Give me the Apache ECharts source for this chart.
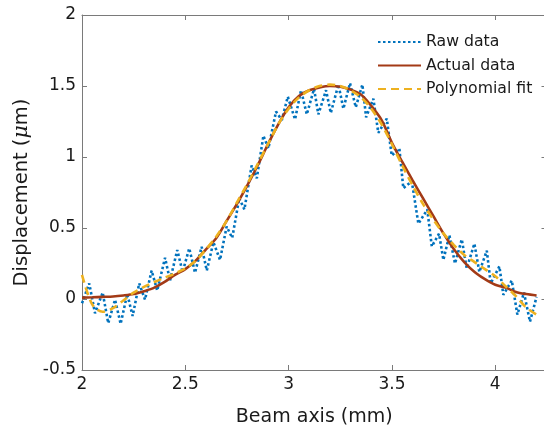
<!DOCTYPE html>
<html>
<head>
<meta charset="utf-8">
<script src="https://cdn.jsdelivr.net/npm/echarts@6/dist/echarts.min.js"></script>
<style>
  html, body { margin: 0; padding: 0; background: #ffffff; overflow: hidden; }
  #chart { width: 552px; height: 433px; }
</style>
</head>
<body>
<div id="chart"></div>
<script>
// ---- Data ----
const seriesNames = ['Raw data', 'Actual data', 'Polynomial fit'];

// Raw data: turning points of the rippled measurement
const rawX = [2.000, 2.035, 2.063, 2.100, 2.127, 2.160, 2.187, 2.219, 2.245, 2.277,
              2.305, 2.337, 2.364, 2.402, 2.426, 2.461, 2.487, 2.519, 2.547, 2.579,
              2.604, 2.636, 2.668, 2.700, 2.727, 2.761, 2.786, 2.821, 2.846, 2.878,
              2.902, 2.939, 2.967, 2.996, 3.031, 3.060, 3.088, 3.123, 3.144, 3.181,
              3.204, 3.241, 3.265, 3.297, 3.325, 3.357, 3.375, 3.410, 3.434, 3.475,
              3.499, 3.536, 3.555, 3.596, 3.628, 3.671, 3.693, 3.728, 3.749, 3.778,
              3.805, 3.838, 3.862, 3.899, 3.923, 3.959, 3.978, 4.020, 4.039, 4.080,
              4.107, 4.139, 4.168, 4.200];
const rawY = [-0.03, 0.11, -0.10, 0.045, -0.17, -0.005, -0.175, 0.035, -0.12, 0.11,
              -0.005, 0.20, 0.06, 0.29, 0.13, 0.345, 0.19, 0.357, 0.185, 0.368,
              0.20, 0.40, 0.275, 0.51, 0.43, 0.71, 0.63, 0.94, 0.85, 1.15,
              1.06, 1.32, 1.26, 1.425, 1.265, 1.47, 1.30, 1.48, 1.30, 1.47,
              1.31, 1.51, 1.34, 1.52, 1.35, 1.51, 1.28, 1.41, 1.17, 1.27,
              1.01, 1.06, 0.78, 0.83, 0.53, 0.63, 0.37, 0.46, 0.275, 0.45,
              0.25, 0.42, 0.215, 0.39, 0.19, 0.34, 0.11, 0.23, 0.03, 0.13,
              -0.11, 0.045, -0.16, 0.015];

// Actual data and polynomial fit, sampled every 0.05 mm
const fitX = [2.00, 2.05, 2.10, 2.15, 2.20, 2.25, 2.30, 2.35, 2.40, 2.45,
              2.50, 2.55, 2.60, 2.65, 2.70, 2.75, 2.80, 2.85, 2.90, 2.95,
              3.00, 3.05, 3.10, 3.15, 3.20, 3.25, 3.30, 3.35, 3.40, 3.45,
              3.50, 3.55, 3.60, 3.65, 3.70, 3.75, 3.80, 3.85, 3.90, 3.95,
              4.00, 4.05, 4.10, 4.15, 4.20];
const actualY = [0.010, 0.012, 0.015, 0.018, 0.025, 0.035, 0.055, 0.080, 0.120, 0.170,
                 0.210, 0.270, 0.350, 0.430, 0.550, 0.670, 0.800, 0.940, 1.090, 1.230,
                 1.350, 1.430, 1.470, 1.490, 1.500, 1.495, 1.475, 1.440, 1.360, 1.260,
                 1.100, 0.965, 0.835, 0.710, 0.585, 0.460, 0.350, 0.260, 0.190, 0.140,
                 0.100, 0.080, 0.050, 0.035, 0.025];
const polyY = [0.170, -0.040, -0.090, -0.065, -0.010, 0.045, 0.085, 0.120, 0.150, 0.180,
               0.215, 0.270, 0.350, 0.440, 0.550, 0.680, 0.810, 0.950, 1.090, 1.230,
               1.340, 1.420, 1.470, 1.500, 1.510, 1.500, 1.470, 1.420, 1.340, 1.230,
               1.090, 0.940, 0.800, 0.670, 0.560, 0.460, 0.380, 0.310, 0.260, 0.210,
               0.160, 0.090, 0.020, -0.060, -0.110];

const xTickLabels = ['2', '2.5', '3', '3.5', '4'];
const yTickLabels = ['-0.5', '0', '0.5', '1', '1.5', '2'];

// ---- Build chart ----
const pairs = (xs, ys) => xs.map((x, i) => [x, ys[i]]);
const FONT = 'DejaVu Sans';
const AX = '#7a7a7a';
const TXT = '#1a1a1a';

const fmtX = v => {
  const s = String(Math.round(v * 100) / 100);
  return xTickLabels.indexOf(s) >= 0 ? s : '';
};
const fmtY = v => {
  const s = String(Math.round(v * 100) / 100);
  return yTickLabels.indexOf(s) >= 0 ? s : '';
};

const chart = echarts.init(document.getElementById('chart'), null, { renderer: 'canvas' });
chart.setOption({
  animation: false,
  backgroundColor: '#ffffff',
  grid: { left: 82, top: 15, right: 5.5, bottom: 63, containLabel: false },
  legend: {
    orient: 'vertical',
    left: 377,
    top: 34,
    padding: 0,
    itemWidth: 43,
    itemHeight: 15,
    itemGap: 7.5,
    data: seriesNames,
    itemStyle: { opacity: 0 },
    textStyle: { fontFamily: FONT, fontSize: 15.7, color: TXT, lineHeight: 15 }
  },
  xAxis: [{
    type: 'value', min: 2, max: 4.248, interval: 0.5,
    name: 'Beam axis (mm)', nameLocation: 'middle', nameGap: 38,
    nameTextStyle: { fontFamily: FONT, fontSize: 19, color: TXT },
    axisLine: { show: true, onZero: false, lineStyle: { color: AX, width: 1 } },
    axisTick: { show: true, inside: true, length: 5, lineStyle: { color: AX } },
    axisLabel: { fontFamily: FONT, fontSize: 17, color: TXT, margin: 6, formatter: fmtX, showMaxLabel: false },
    splitLine: { show: false }
  }, {
    type: 'value', min: 2, max: 4.248, interval: 0.5, position: 'top',
    axisLine: { show: true, onZero: false, lineStyle: { color: AX, width: 1 } },
    axisTick: { show: true, inside: true, length: 5, lineStyle: { color: AX } },
    axisLabel: { show: false },
    splitLine: { show: false }
  }],
  yAxis: [{
    type: 'value', min: -0.5, max: 2, interval: 0.5,
    name: 'Displacement ({i|μ}m)', nameLocation: 'middle', nameGap: 43,
    nameTextStyle: {
      fontFamily: FONT, fontSize: 19.5, color: TXT,
      rich: { i: { fontFamily: 'DejaVu Serif', fontStyle: 'italic', fontSize: 20.5, color: TXT } }
    },
    axisLine: { show: true, onZero: false, lineStyle: { color: AX, width: 1 } },
    axisTick: { show: true, inside: true, length: 5, lineStyle: { color: AX } },
    axisLabel: { fontFamily: FONT, fontSize: 17, color: TXT, margin: 6, formatter: fmtY },
    splitLine: { show: false }
  }, {
    type: 'value', min: -0.5, max: 2, interval: 0.5, position: 'right',
    axisLine: { show: false },
    axisTick: { show: true, inside: true, length: 5, lineStyle: { color: AX } },
    axisLabel: { show: false },
    splitLine: { show: false }
  }],
  series: [{
    name: seriesNames[0], type: 'line', xAxisIndex: 0, yAxisIndex: 0,
    data: pairs(rawX, rawY), symbol: 'none', smooth: false, z: 2,
    itemStyle: { color: '#0072BD' },
    lineStyle: { color: '#0072BD', width: 2.6, type: [2.5, 2.5], cap: 'butt' }
  }, {
    name: seriesNames[1], type: 'line', xAxisIndex: 0, yAxisIndex: 0,
    data: pairs(fitX, actualY), symbol: 'none', smooth: 0.3, z: 3,
    itemStyle: { color: '#A33A16' },
    lineStyle: { color: '#A33A16', width: 2.6, type: 'solid' }
  }, {
    name: seriesNames[2], type: 'line', xAxisIndex: 0, yAxisIndex: 0,
    data: pairs(fitX, polyY), symbol: 'none', smooth: 0.3, z: 4,
    itemStyle: { color: '#EDB120' },
    lineStyle: { color: '#EDB120', width: 2.6, type: [8, 5] }
  }]
});
</script>
</body>
</html>
